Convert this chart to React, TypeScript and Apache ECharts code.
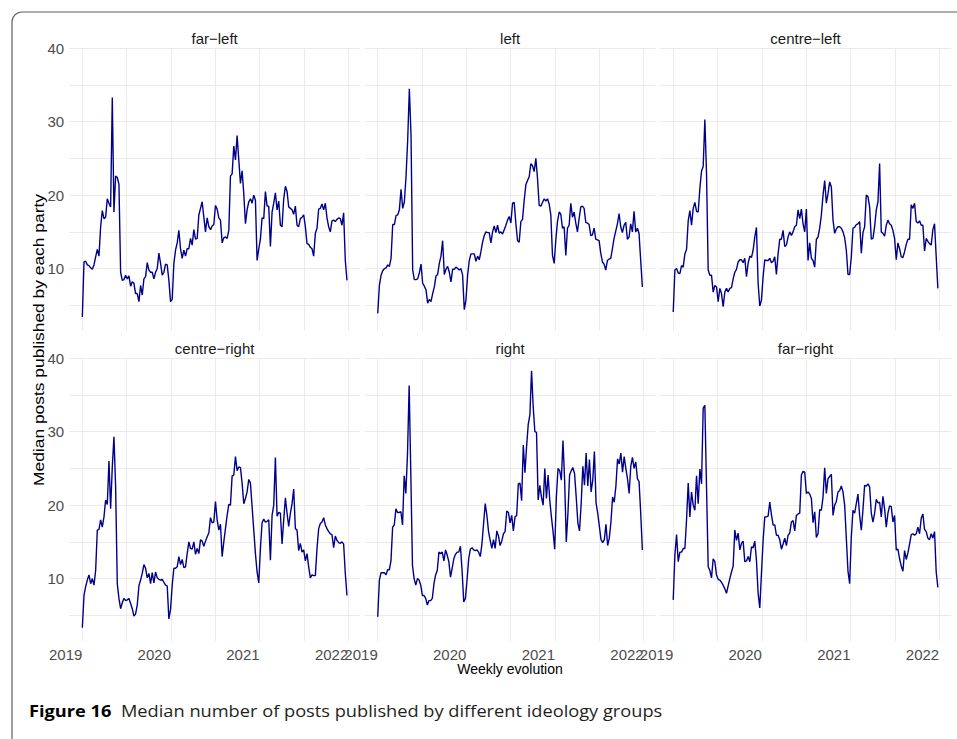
import React, { useEffect, useRef } from "react";
import * as echarts from "echarts";

// ---- data ----
const PANEL_NAMES = ["far−left", "left", "centre−left", "centre−right", "right", "far−right"];

const farLeft = [
  3.4, 10.9, 11.0, 10.5, 10.4, 10.1, 9.9, 10.5, 11.6, 12.6,
  11.7, 15.7, 17.9, 16.8, 17.0, 19.5, 18.9, 18.4, 33.3, 17.7,
  22.6, 22.4, 21.5, 9.5, 8.4, 8.5, 9.1, 8.6, 9.0, 7.6,
  8.2, 8.0, 6.6, 6.6, 5.5, 7.7, 6.4, 8.6, 8.9, 10.8,
  9.8, 9.5, 9.5, 8.6, 9.5, 10.0, 12.1, 10.7, 9.1, 9.5,
  10.6, 10.5, 8.4, 5.5, 5.8, 10.7, 12.5, 13.5, 15.2, 12.7,
  11.4, 12.5, 11.7, 12.7, 12.7, 14.1, 13.2, 15.3, 14.0, 14.1,
  17.3, 18.2, 19.1, 17.0, 15.0, 16.9, 15.7, 15.3, 15.8, 16.0,
  18.6, 18.1, 16.9, 16.6, 13.5, 14.2, 14.3, 14.1, 15.2, 22.6,
  22.9, 26.7, 24.8, 28.1, 24.8, 21.6, 23.3, 20.2, 16.1, 18.0,
  19.1, 19.5, 18.9, 20.0, 19.3, 11.1, 12.7, 14.0, 16.9, 16.8,
  20.5, 18.5, 18.5, 13.0, 17.7, 18.9, 20.3, 18.0, 19.2, 15.9,
  15.7, 19.5, 21.2, 20.5, 18.4, 18.2, 18.0, 17.4, 18.5, 15.9,
  15.7, 16.8, 17.0, 17.3, 15.7, 13.4, 13.3, 12.9, 12.7, 11.7,
  14.8, 15.5, 18.1, 18.2, 18.8, 18.0, 18.9, 16.9, 15.7, 15.0,
  16.5, 16.6, 16.4, 16.7, 16.9, 16.8, 15.9, 17.6, 11.1, 8.4,
];

const left = [
  3.9, 7.7, 9.1, 9.7, 10.0, 10.1, 10.5, 10.3, 11.4, 16.0,
  16.0, 17.2, 17.3, 18.0, 20.8, 18.2, 19.1, 22.5, 27.5, 34.5,
  28.2, 9.8, 8.5, 8.5, 8.6, 9.4, 10.6, 8.0, 7.6, 7.1,
  5.3, 5.8, 5.5, 6.6, 7.5, 9.0, 9.2, 10.7, 11.7, 13.8,
  9.2, 9.9, 10.3, 9.5, 8.2, 9.9, 9.9, 10.2, 10.0, 9.8,
  10.0, 9.1, 4.4, 5.7, 9.1, 11.1, 12.0, 12.0, 12.0, 11.0,
  11.7, 11.2, 12.3, 13.6, 14.5, 15.0, 14.9, 14.9, 13.5, 15.0,
  15.8, 14.9, 15.9, 14.8, 15.0, 14.7, 15.3, 15.9, 16.6, 17.1,
  16.2, 18.9, 19.0, 16.1, 13.8, 13.6, 16.4, 16.7, 19.3, 21.4,
  22.0, 22.5, 24.3, 24.0, 23.2, 25.0, 22.3, 18.6, 18.5, 19.0,
  19.5, 19.2, 19.5, 18.8, 17.3, 11.8, 10.7, 13.9, 16.4, 17.7,
  17.4, 15.5, 15.7, 11.8, 15.5, 15.9, 18.9, 17.0, 17.7, 16.2,
  15.0, 16.8, 18.4, 18.5, 18.2, 16.3, 16.2, 16.0, 14.5, 14.6,
  15.5, 14.0, 13.9, 13.8, 12.1, 10.9, 10.6, 9.8, 11.1, 11.3,
  11.4, 12.7, 14.1, 15.1, 16.1, 17.5, 15.7, 14.9, 15.9, 16.3,
  14.0, 14.3, 16.1, 15.0, 17.8, 15.0, 15.5, 14.8, 11.1, 7.5,
];

const centreLeft = [
  4.1, 9.8, 10.0, 9.4, 9.3, 10.4, 10.2, 12.0, 12.6, 16.5,
  17.9, 15.9, 18.2, 19.0, 17.8, 17.7, 20.9, 23.3, 23.9, 30.3,
  23.0, 9.8, 9.1, 9.1, 6.8, 7.7, 7.5, 5.5, 7.3, 6.6,
  4.8, 6.8, 7.3, 6.8, 7.3, 7.4, 8.6, 9.5, 9.9, 10.9,
  11.2, 11.2, 10.8, 11.4, 8.9, 10.7, 11.7, 11.5, 12.5, 14.3,
  15.6, 8.0, 4.9, 5.7, 8.9, 11.2, 11.1, 11.1, 11.4, 10.8,
  11.0, 11.6, 9.2, 12.0, 14.0, 14.0, 15.2, 13.0, 13.2, 14.3,
  15.0, 14.5, 15.0, 15.7, 15.9, 18.0, 16.8, 18.1, 16.1, 15.0,
  18.1, 11.1, 13.5, 11.4, 11.1, 10.2, 14.0, 14.3, 15.5, 17.3,
  20.0, 22.0, 18.9, 20.2, 21.8, 21.1, 16.6, 14.8, 15.4, 15.7,
  15.7, 15.5, 15.0, 14.2, 12.5, 9.2, 9.2, 11.6, 15.5, 15.6,
  16.0, 16.1, 16.4, 12.1, 14.9, 15.7, 20.0, 19.8, 18.4, 14.0,
  14.1, 15.7, 18.0, 19.1, 24.3, 15.0, 14.8, 14.4, 15.9, 16.6,
  16.1, 15.9, 15.2, 14.1, 11.2, 13.5, 12.7, 11.6, 11.5, 12.3,
  13.3, 14.0, 14.0, 18.7, 18.2, 18.9, 16.4, 16.2, 16.5, 15.9,
  15.9, 12.4, 14.1, 13.7, 13.4, 13.2, 15.3, 16.1, 11.6, 7.3,
];

const centreRight = [
  3.3, 7.7, 8.9, 9.8, 10.5, 9.3, 10.0, 9.1, 11.1, 16.6,
  16.7, 18.0, 17.0, 18.4, 20.7, 20.1, 26.0, 19.5, 25.2, 29.3,
  22.5, 9.3, 7.3, 5.9, 6.7, 7.3, 7.0, 7.1, 7.3, 6.6,
  5.9, 4.9, 5.2, 6.4, 9.0, 9.8, 10.7, 11.9, 11.4, 10.1,
  10.7, 9.3, 10.8, 9.4, 10.9, 10.1, 9.9, 9.8, 9.9, 9.5,
  9.1, 9.0, 4.5, 5.8, 9.1, 11.4, 11.4, 11.6, 13.0, 11.9,
  12.6, 11.5, 11.6, 13.4, 15.0, 14.1, 14.0, 15.0, 13.3, 14.1,
  13.4, 15.3, 15.1, 14.4, 15.1, 15.7, 16.2, 18.3, 17.6, 17.7,
  20.5, 18.0, 16.6, 17.4, 13.0, 15.0, 16.8, 18.6, 20.1, 20.0,
  24.0, 24.1, 26.6, 24.7, 25.2, 25.1, 23.0, 20.2, 20.9, 21.8,
  23.5, 23.0, 19.8, 16.6, 13.4, 10.9, 9.4, 14.1, 17.6, 18.1,
  17.7, 17.8, 18.0, 12.5, 18.6, 20.0, 26.5, 18.5, 19.0, 18.9,
  14.7, 18.0, 21.0, 18.9, 17.1, 18.9, 20.2, 22.2, 16.8, 16.6,
  13.8, 14.8, 13.6, 13.9, 12.4, 13.4, 11.6, 10.1, 10.5, 10.4,
  10.4, 14.1, 16.8, 17.5, 17.7, 18.3, 17.3, 16.8, 16.4, 16.1,
  16.0, 14.2, 15.8, 15.2, 14.9, 14.8, 15.0, 14.7, 10.7, 7.7,
];

const right = [
  4.8, 9.8, 10.8, 10.8, 10.8, 10.5, 11.2, 11.2, 12.4, 17.0,
  17.3, 19.5, 19.0, 19.0, 19.1, 17.3, 24.0, 21.6, 27.0, 36.3,
  24.3, 11.8, 10.0, 9.1, 10.0, 9.8, 9.1, 7.7, 7.7, 7.3,
  6.4, 7.0, 7.0, 7.3, 9.3, 10.5, 11.1, 13.6, 13.4, 13.6,
  12.4, 13.9, 13.2, 12.3, 10.2, 11.4, 12.7, 13.3, 13.6, 13.6,
  14.4, 11.1, 6.8, 7.3, 9.8, 12.7, 14.0, 14.2, 13.9, 13.8,
  13.9, 13.6, 13.0, 14.7, 17.5, 20.2, 18.6, 16.4, 15.2, 14.1,
  15.3, 14.1, 16.5, 15.8, 14.5, 15.1, 16.1, 16.4, 19.2, 19.0,
  17.6, 18.6, 16.5, 18.4, 18.6, 22.9, 23.0, 20.6, 28.2, 24.4,
  28.0, 31.0, 32.3, 38.3, 33.4, 30.0, 29.9, 20.7, 22.7, 21.1,
  20.0, 25.0, 20.9, 24.1, 20.7, 18.4, 16.4, 14.0, 21.1, 25.0,
  24.7, 23.4, 28.8, 23.4, 15.0, 18.9, 24.1, 24.7, 25.1, 24.3,
  21.1, 17.6, 16.5, 20.2, 25.3, 22.7, 27.1, 22.6, 26.2, 21.8,
  23.4, 27.3, 20.3, 18.9, 17.1, 15.3, 14.9, 15.3, 17.4, 14.5,
  15.5, 17.7, 21.1, 20.4, 22.6, 26.3, 25.6, 27.1, 24.5, 26.6,
  25.0, 23.6, 21.6, 25.3, 26.5, 25.0, 25.9, 23.6, 23.2, 18.9, 13.9,
];

const farRight = [
  7.1, 13.2, 16.0, 12.3, 13.6, 13.6, 14.1, 14.1, 18.0, 23.0,
  18.4, 21.8, 20.0, 19.3, 24.0, 20.2, 24.9, 22.9, 33.2, 33.6,
  22.5, 11.6, 11.1, 10.1, 12.7, 12.3, 10.5, 9.9, 9.8, 9.5,
  9.1, 8.6, 8.0, 9.0, 10.0, 10.9, 11.7, 16.6, 15.2, 16.2,
  13.9, 14.8, 15.1, 12.3, 12.4, 13.0, 12.3, 14.3, 14.2, 15.1,
  12.5, 8.0, 6.0, 10.7, 15.2, 18.4, 18.4, 18.5, 20.4, 18.7,
  17.3, 17.3, 15.9, 15.9, 15.3, 14.0, 14.7, 15.5, 14.5, 15.9,
  16.2, 17.7, 17.9, 16.5, 18.6, 18.8, 18.9, 24.1, 24.6, 24.5,
  21.6, 21.8, 21.5, 20.9, 17.6, 19.1, 15.6, 16.1, 19.4, 19.3,
  21.1, 25.1, 21.6, 23.6, 23.9, 24.2, 18.6, 20.0, 20.5, 21.8,
  22.0, 22.6, 21.8, 20.0, 15.5, 11.0, 9.3, 15.7, 19.3, 18.9,
  20.2, 21.5, 18.6, 16.6, 19.4, 22.7, 22.6, 22.9, 22.5, 18.9,
  17.7, 18.9, 20.8, 20.3, 20.4, 18.4, 21.2, 19.5, 17.0, 18.9,
  19.9, 19.8, 17.7, 18.6, 13.9, 14.0, 12.7, 11.7, 11.0, 13.8,
  12.6, 13.5, 14.7, 16.0, 16.1, 15.9, 16.1, 17.0, 16.1, 18.2,
  18.8, 16.7, 16.4, 15.5, 15.3, 16.1, 15.5, 16.4, 10.9, 8.8,
];

const SERIES_VALUES = [farLeft, left, centreLeft, centreRight, right, farRight];

// weekly observations span this period (decimal years)
const PERIOD_START = 2019.0;
const PERIOD_END = 2021.985;

const YEAR_LABELS = [2019, 2020, 2021, 2022];
const X_GRID_VALUES = [2019, 2019.5, 2020, 2020.5, 2021, 2021.5, 2022];
const Y_LABELS = [10, 20, 30, 40];
const Y_GRID_VALUES = [5, 10, 15, 20, 25, 30, 35, 40];

const X_TITLE = "Weekly evolution";
const Y_TITLE = "Median posts published by each party";
const CAPTION_BOLD = "Figure 16";
const CAPTION_TEXT = "Median number of posts published by different ideology groups";

// ---- layout ----
const COL_LEFT = [69.1, 364.5, 660.0];
const ROW_TOP = [47.9, 357.9];
const PANEL_W = 291.1;
const PANEL_H = 283.1;

const span = PERIOD_END - PERIOD_START;
const X_MIN = PERIOD_START - 0.05 * span;
const X_MAX = PERIOD_END + 0.05 * span;
const Y_MIN = 1.5;
const Y_MAX = 40.05;

const FONT = "'Liberation Sans', Arial, sans-serif";

function buildOption() {
  const grids: any[] = [];
  const xAxes: any[] = [];
  const yAxes: any[] = [];
  const series: any[] = [];
  const graphics: any[] = [];

  graphics.push({
    type: "rect",
    z: 0,
    shape: { x: 12, y: 12, width: 1000, height: 800, r: 10 },
    style: { fill: "none", stroke: "#5f5f5f", lineWidth: 1.2 },
    silent: true,
  });

  for (let p = 0; p < 6; p++) {
    const row = Math.floor(p / 3);
    const col = p % 3;
    grids.push({
      left: COL_LEFT[col],
      top: ROW_TOP[row],
      width: PANEL_W,
      height: PANEL_H,
      containLabel: false,
      outerBoundsMode: "none",
    });
    xAxes.push({
      type: "value",
      gridIndex: p,
      min: X_MIN,
      max: X_MAX,
      axisLine: { show: false },
      axisTick: { show: false, customValues: X_GRID_VALUES },
      splitLine: { show: true, lineStyle: { color: "#ebebeb", width: 1 } },
      axisLabel: {
        show: row === 1,
        customValues: YEAR_LABELS,
        formatter: (v: number) => String(Math.round(v)),
        align: "right",
        margin: 6,
        fontSize: 15,
        color: "#4d4d4d",
        fontFamily: FONT,
        showMinLabel: true,
        showMaxLabel: true,
        hideOverlap: false,
      },
    });
    yAxes.push({
      type: "value",
      gridIndex: p,
      min: Y_MIN,
      max: Y_MAX,
      axisLine: { show: false },
      axisTick: { show: false, customValues: Y_GRID_VALUES },
      splitLine: { show: true, lineStyle: { color: "#ebebeb", width: 1 } },
      axisLabel: {
        show: col === 0,
        customValues: Y_LABELS,
        margin: 5,
        fontSize: 15,
        color: "#4d4d4d",
        fontFamily: FONT,
      },
    });
    const vals = SERIES_VALUES[p];
    const n = vals.length;
    series.push({
      type: "line",
      xAxisIndex: p,
      yAxisIndex: p,
      showSymbol: false,
      symbol: "none",
      silent: true,
      lineStyle: { color: "#00008B", width: 1.4 },
      data: vals.map((v, i) => [PERIOD_START + (i * span) / (n - 1), v]),
    });
    graphics.push({
      type: "text",
      x: COL_LEFT[col] + PANEL_W / 2,
      y: ROW_TOP[row] - 9.5,
      style: {
        text: PANEL_NAMES[p],
        align: "center",
        verticalAlign: "middle",
        fontSize: 15,
        fontFamily: FONT,
        fill: "#1a1a1a",
      },
    });
  }

  graphics.push({
    type: "text",
    x: 510,
    y: 669,
    style: {
      text: X_TITLE,
      align: "center",
      verticalAlign: "middle",
      fontSize: 14,
      fontFamily: FONT,
      fill: "#000",
    },
  });
  graphics.push({
    type: "text",
    x: 38.5,
    y: 340,
    rotation: Math.PI / 2,
    scaleX: 1.16,
    style: {
      text: Y_TITLE,
      align: "center",
      verticalAlign: "middle",
      fontSize: 15,
      fontFamily: FONT,
      fill: "#000",
    },
  });
  graphics.push({
    type: "text",
    x: 29,
    y: 710.5,
    scaleX: 1.14,
    style: {
      text: `{b|${CAPTION_BOLD}}  ${CAPTION_TEXT}`,
      align: "left",
      verticalAlign: "middle",
      fontSize: 16,
      fontFamily: "'Open Sans', sans-serif",
      fill: "#231f20",
      rich: {
        b: { fontSize: 16, fontWeight: "bold", fontFamily: "'Open Sans', sans-serif", fill: "#000" },
      },
    },
  });

  return {
    animation: false,
    backgroundColor: "#ffffff",
    grid: grids,
    xAxis: xAxes,
    yAxis: yAxes,
    series,
    graphic: graphics,
  };
}

export default function App() {
  const ref = useRef<HTMLDivElement>(null);
  useEffect(() => {
    if (!ref.current) return;
    const chart = echarts.init(ref.current, undefined, { renderer: "svg" });
    chart.setOption(buildOption() as any);
    return () => chart.dispose();
  }, []);
  return (
    <div
      ref={ref}
      style={{ position: "absolute", left: 0, top: 0, width: 957, height: 739, background: "#fff" }}
    />
  );
}
